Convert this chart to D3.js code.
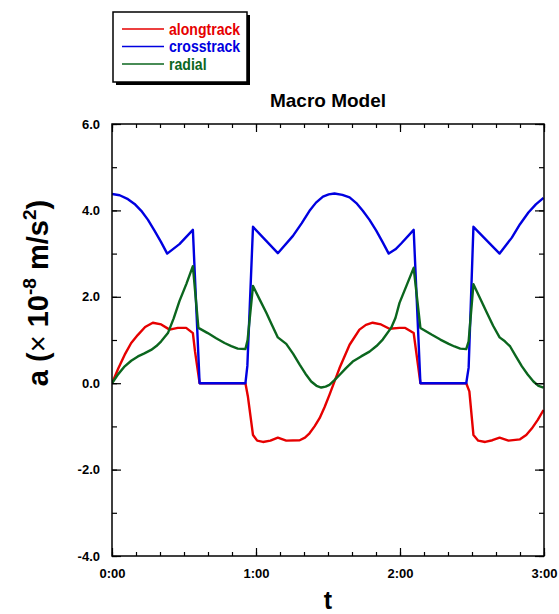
<!DOCTYPE html>
<html>
<head>
<meta charset="utf-8">
<script src="https://cdn.jsdelivr.net/npm/d3@7"></script>
<style>
  html, body { margin: 0; padding: 0; background: #fff; }
  svg { display: block; font-family: "Liberation Sans", Arial, Helvetica, sans-serif; }
</style>
</head>
<body>
<svg id="chart" width="559" height="614"></svg>
<script>
// Acceleration components over three hours (t in minutes, a in 1e-8 m/s^2)
const alongtrack = [
  [0, 0], [2.6, 0.34], [5.3, 0.66], [8, 0.93], [10.8, 1.12], [13.8, 1.3], [17, 1.4],
  [20.5, 1.36], [24, 1.24], [27.4, 1.28], [30.9, 1.28], [33.7, 1.16], [34.6, 0.73],
  [36.5, 0], [55.6, 0], [56.6, -0.3], [58.75, -1.2], [60.5, -1.33], [62.9, -1.36],
  [66, -1.33], [69.1, -1.26], [72.6, -1.33], [78.2, -1.32], [80.4, -1.26], [82.3, -1.16],
  [84.4, -1.0], [86.5, -0.81], [88.6, -0.55], [90.6, -0.27], [94.8, 0.35], [99, 0.89],
  [103.1, 1.24], [105.8, 1.35], [108.6, 1.4], [112.1, 1.36], [115.6, 1.26], [119.8, 1.28],
  [122.2, 1.28], [125.7, 1.16], [127.1, 0.58], [128.5, 0], [147.6, 0], [148.9, -0.19],
  [150.6, -1.2], [152.6, -1.33], [155.5, -1.36], [158.5, -1.32], [161.5, -1.26],
  [165.2, -1.33], [170, -1.3], [172.6, -1.2], [174.9, -1.05], [177.4, -0.85], [179.8, -0.62]
];
const crosstrack = [
  [0, 4.38], [3.2, 4.35], [6.65, 4.26], [9.4, 4.15], [12.2, 3.99], [15, 3.78], [17.7, 3.53],
  [20.4, 3.27], [23, 3.0], [28.1, 3.22], [33.7, 3.55], [36.5, 0], [55.6, 0], [56.4, 0.4],
  [58.75, 3.62], [69.1, 3.01], [75.4, 3.41], [79, 3.7], [82.3, 3.99], [85, 4.18],
  [87.9, 4.32], [90.3, 4.37], [92.7, 4.39], [96, 4.36], [99, 4.3], [101.8, 4.17],
  [104.5, 3.99], [107.3, 3.78], [110.1, 3.53], [112.7, 3.27], [115.3, 3.0], [118.1, 3.1],
  [120.6, 3.24], [125.7, 3.55], [128.5, 0], [147.6, 0], [148.6, 0.36], [150.6, 3.62],
  [161.5, 3.0], [166.6, 3.37], [170, 3.68], [173.5, 3.95], [176.6, 4.14], [179.8, 4.29]
];
const radial = [
  [0, 0], [2.6, 0.21], [5.3, 0.39], [8, 0.52], [10.8, 0.62], [13.5, 0.69], [16.3, 0.77],
  [18.5, 0.86], [20.5, 0.97], [23.3, 1.16], [25.7, 1.5], [28.1, 1.9], [31, 2.3],
  [33.7, 2.71], [36, 1.28], [39.9, 1.16], [43.4, 1.04], [46.9, 0.93], [49.7, 0.86],
  [52.4, 0.8], [55.6, 0.79], [56.5, 1.0], [58.75, 2.25], [61.5, 1.94], [64.3, 1.63],
  [66.7, 1.34], [69.1, 1.06], [72.6, 0.91], [75.5, 0.68], [78.2, 0.43], [80.6, 0.22],
  [83, 0.04], [85.2, -0.06], [87.2, -0.1], [89, -0.08], [90.6, -0.04], [92.7, 0.07],
  [94.8, 0.19], [97.5, 0.35], [100.3, 0.5], [103.8, 0.62], [107.3, 0.73], [110.2, 0.86],
  [112.8, 1.01], [116.3, 1.28], [118.1, 1.51], [119.8, 1.86], [122.8, 2.27], [125.7, 2.67],
  [128.5, 1.28], [133.3, 1.12], [136.8, 1.01], [140.3, 0.91], [142.7, 0.85], [145.1, 0.8],
  [147.6, 0.79], [148.6, 0.97], [150.6, 2.29], [153.4, 1.96], [156.2, 1.63], [158.8, 1.33],
  [161.5, 1.06], [163.7, 0.97], [165.9, 0.85], [168.3, 0.62], [170.8, 0.39], [173.2, 0.2],
  [175.6, 0.04], [177.7, -0.06], [179.8, -0.1]
];

const seriesNames = ["alongtrack", "crosstrack", "radial"];
const seriesColors = ["#e60000", "#0000e0", "#0b661e"];

// Axis ticks
const xMajorTicks = [0, 60, 120, 180];
const xTickLabels = ["0:00", "1:00", "2:00", "3:00"];
const xMinorTicks = d3.range(0, 181, 10);
const yMajorTicks = [-4, -2, 0, 2, 4, 6];
const yTickLabels = ["-4.0", "-2.0", "0.0", "2.0", "4.0", "6.0"];
const yMinorTicks = d3.range(-4, 7, 1);

const titleText = "Macro Model";

const svg = d3.select("#chart");
const plot = { left: 112, top: 124, width: 432, height: 432 };

const x = d3.scaleLinear().domain([0, 180]).range([plot.left, plot.left + plot.width]);
const y = d3.scaleLinear().domain([-4, 6]).range([plot.top + plot.height, plot.top]);

// Curves
const line = d3.line().x(d => x(d[0])).y(d => y(d[1])).curve(d3.curveLinear);
const allSeries = [alongtrack, crosstrack, radial];
svg.append("clipPath").attr("id", "plotClip")
  .append("rect").attr("x", plot.left).attr("y", plot.top)
  .attr("width", plot.width).attr("height", plot.height);
svg.append("g").attr("clip-path", "url(#plotClip)")
  .selectAll("path").data(allSeries).join("path")
  .attr("d", line)
  .attr("fill", "none")
  .attr("stroke", (d, i) => seriesColors[i])
  .attr("stroke-width", 2.4)
  .attr("stroke-linejoin", "round");

// Inward ticks on all four sides
function styleAxis(g) {
  g.select(".domain").remove();
  g.selectAll(".tick line").attr("stroke", "#000").attr("stroke-width", 1.2);
  g.selectAll(".tick text")
    .attr("fill", "#000")
    .style("font-size", "13px")
    .style("font-weight", "bold");
}
const bottom = plot.top + plot.height, right = plot.left + plot.width;

svg.append("g").attr("transform", `translate(0,${bottom})`)
  .call(d3.axisBottom(x).tickValues(xMinorTicks).tickSize(-4).tickFormat(""))
  .call(styleAxis);
svg.append("g").attr("transform", `translate(0,${bottom})`)
  .call(d3.axisBottom(x).tickValues(xMajorTicks).tickSize(-8).tickPadding(13)
    .tickFormat((d, i) => xTickLabels[i]))
  .call(styleAxis);
svg.append("g").attr("transform", `translate(0,${plot.top})`)
  .call(d3.axisTop(x).tickValues(xMinorTicks).tickSize(-4).tickFormat(""))
  .call(styleAxis);
svg.append("g").attr("transform", `translate(0,${plot.top})`)
  .call(d3.axisTop(x).tickValues(xMajorTicks).tickSize(-8).tickFormat(""))
  .call(styleAxis);

svg.append("g").attr("transform", `translate(${plot.left},0)`)
  .call(d3.axisLeft(y).tickValues(yMinorTicks).tickSize(-5).tickFormat(""))
  .call(styleAxis);
svg.append("g").attr("transform", `translate(${plot.left},0)`)
  .call(d3.axisLeft(y).tickValues(yMajorTicks).tickSize(-9).tickPadding(12)
    .tickFormat((d, i) => yTickLabels[i]))
  .call(styleAxis);
svg.append("g").attr("transform", `translate(${right},0)`)
  .call(d3.axisRight(y).tickValues(yMinorTicks).tickSize(-5).tickFormat(""))
  .call(styleAxis);
svg.append("g").attr("transform", `translate(${right},0)`)
  .call(d3.axisRight(y).tickValues(yMajorTicks).tickSize(-9).tickFormat(""))
  .call(styleAxis);

// Frame
svg.append("rect")
  .attr("x", plot.left).attr("y", plot.top)
  .attr("width", plot.width).attr("height", plot.height)
  .attr("fill", "none").attr("stroke", "#000").attr("stroke-width", 1.5);

// Title
svg.append("text")
  .attr("x", plot.left + plot.width / 2).attr("y", 107)
  .attr("text-anchor", "middle")
  .style("font-size", "19px").style("font-weight", "bold")
  .text(titleText);

// Axis titles
svg.append("text")
  .attr("x", plot.left + plot.width / 2).attr("y", 609)
  .attr("text-anchor", "middle")
  .style("font-size", "25px").style("font-weight", "bold")
  .text("t");

const yTitle = svg.append("text")
  .attr("transform", "translate(48,293) rotate(-90)")
  .attr("text-anchor", "middle")
  .style("font-size", "29px").style("font-weight", "bold");
yTitle.append("tspan").text("a (");
yTitle.append("tspan").style("font-weight", "normal").text("\u00d7");
yTitle.append("tspan").text(" 10");
yTitle.append("tspan").attr("dy", -12).style("font-size", "19px").text("-8");
yTitle.append("tspan").attr("dy", 12).text(" m/s");
yTitle.append("tspan").attr("dy", -12).style("font-size", "19px").text("2");
yTitle.append("tspan").attr("dy", 12).text(")");

// Legend
const legend = svg.append("g");
legend.append("rect").attr("x", 116).attr("y", 15).attr("width", 134).attr("height", 70)
  .attr("fill", "#000");
legend.append("rect").attr("x", 113).attr("y", 12).attr("width", 134).attr("height", 70)
  .attr("fill", "#fff").attr("stroke", "#000").attr("stroke-width", 1.5);
const rows = legend.selectAll("g.row").data(seriesNames).join("g")
  .attr("class", "row")
  .attr("transform", (d, i) => `translate(0,${29 + i * 17.5})`);
rows.append("line").attr("x1", 122).attr("x2", 164).attr("y1", 0).attr("y2", 0)
  .attr("stroke", (d, i) => seriesColors[i]).attr("stroke-width", 1.5);
rows.append("text")
  .attr("transform", "translate(169,5.5) scale(0.88,1)")
  .attr("fill", (d, i) => seriesColors[i])
  .style("font-size", "16px").style("font-weight", "bold")
  .text(d => d);
</script>
</body>
</html>
